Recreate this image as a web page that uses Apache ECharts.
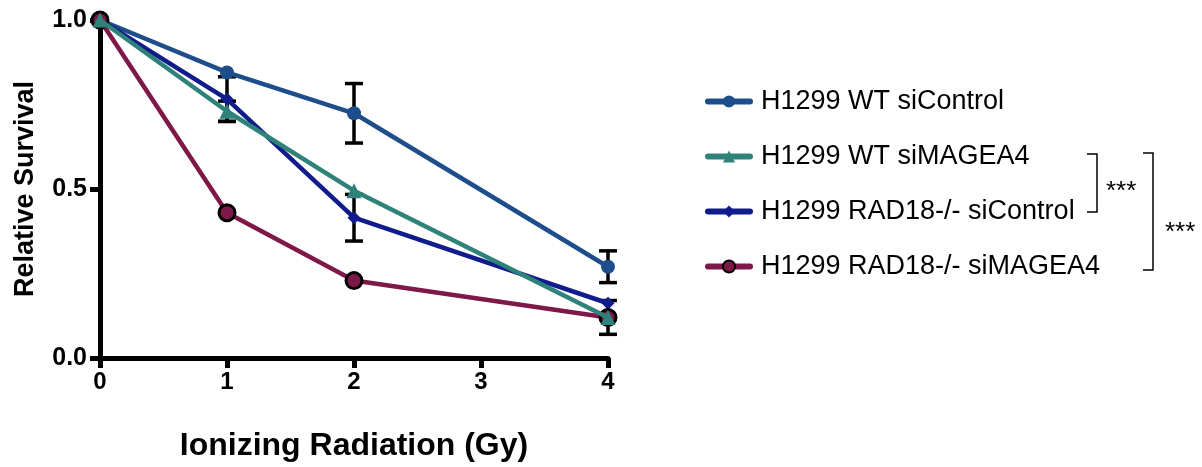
<!DOCTYPE html>
<html>
<head>
<meta charset="utf-8">
<script src="https://cdn.jsdelivr.net/npm/echarts@6/dist/echarts.min.js"></script>
<style>
  html, body { margin: 0; padding: 0; background: #fff; }
  #chart { width: 1202px; height: 467px; }
</style>
</head>
<body>
<div id="chart"></div>
<script>
// Dose points (Gy)
const doses = [0, 1, 2, 4];

// Series names
const seriesNames = [
  'H1299 WT siControl',
  'H1299 WT siMAGEA4',
  'H1299 RAD18-/- siControl',
  'H1299 RAD18-/- siMAGEA4'
];

// Relative survival means
const wtSiControl     = [1.0, 0.845, 0.724, 0.270];
const wtSiMAGEA4      = [1.0, 0.730, 0.495, 0.120];
const rad18SiControl  = [1.0, 0.766, 0.415, 0.162];
const rad18SiMAGEA4   = [1.0, 0.430, 0.229, 0.120];

// Error (half-length of error bar), 0 = no bar shown
const wtSiControlErr    = [0, 0, 0.088, 0.047];
const wtSiMAGEA4Err     = [0, 0.030, 0, 0];
const rad18SiControlErr = [0, 0.066, 0.069, 0];
const rad18SiMAGEA4Err  = [0, 0, 0, 0.050];

// Axis ticks
const xTicks = [0, 1, 2, 3, 4];
const yTicks = [0, 0.5, 1.0];

const colors = ['#1D4E8B', '#2E8279', '#101B8C', '#7E1848'];
const symbols = ['circle', 'triangle', 'diamond', 'circle'];
const symbolSizes = [14, 15, 13, 16];

const means = [wtSiControl, wtSiMAGEA4, rad18SiControl, rad18SiMAGEA4];
const errs = [wtSiControlErr, wtSiMAGEA4Err, rad18SiControlErr, rad18SiMAGEA4Err];

const fontFamily = '"Liberation Sans", Arial, Helvetica, sans-serif';

// Collect non-zero error bars
const errData = [];
means.forEach((m, si) => {
  m.forEach((v, i) => {
    if (errs[si][i] > 0) errData.push([doses[i], v, errs[si][i]]);
  });
});

const lineSeries = means.map((m, si) => ({
  name: seriesNames[si],
  type: 'line',
  data: doses.map((d, i) => [d, m[i]]),
  symbol: symbols[si],
  symbolSize: symbolSizes[si],
  showSymbol: true,
  clip: false,
  z: 3 + (si === 1 ? 1 : 0),
  lineStyle: { color: colors[si], width: 4.5 },
  itemStyle: si === 3
    ? { color: colors[si], borderColor: '#000', borderWidth: 3 }
    : { color: colors[si] },
  emphasis: { disabled: true },
  animation: false
}));

const errorSeries = {
  type: 'custom',
  name: 'err',
  z: 2,
  clip: false,
  data: errData,
  renderItem: function (params, api) {
    const x = api.value(0), y = api.value(1), e = api.value(2);
    const hi = api.coord([x, y + e]);
    const lo = api.coord([x, y - e]);
    const cap = 9;
    const style = { stroke: '#000', lineWidth: 3.5, fill: null };
    return {
      type: 'group',
      children: [
        { type: 'line', shape: { x1: hi[0], y1: hi[1], x2: lo[0], y2: lo[1] }, style },
        { type: 'line', shape: { x1: hi[0] - cap, y1: hi[1], x2: hi[0] + cap, y2: hi[1] }, style },
        { type: 'line', shape: { x1: lo[0] - cap, y1: lo[1], x2: lo[0] + cap, y2: lo[1] }, style }
      ]
    };
  },
  animation: false
};

const chart = echarts.init(document.getElementById('chart'), null, { renderer: 'canvas' });

const bracketStyle = { stroke: '#000', lineWidth: 1.5, fill: null };

chart.setOption({
  backgroundColor: '#fff',
  animation: false,
  grid: { left: 100, right: 594, top: 20, bottom: 108 },
  xAxis: {
    type: 'value',
    min: 0, max: 4, interval: 1,
    name: 'Ionizing Radiation (Gy)',
    nameLocation: 'middle',
    nameGap: 72,
    nameTextStyle: { fontFamily, fontWeight: 'bold', fontSize: 32, color: '#000' },
    axisLine: { show: true, lineStyle: { color: '#000', width: 5 } },
    axisTick: { show: true, length: 10, lineStyle: { color: '#000', width: 5 } },
    axisLabel: {
      fontFamily, fontWeight: 'bold', fontSize: 24, color: '#000', margin: 12,
      formatter: v => xTicks.includes(v) ? String(v) : ''
    },
    splitLine: { show: false }
  },
  yAxis: {
    type: 'value',
    min: 0, max: 1, interval: 0.5,
    name: 'Relative Survival',
    nameLocation: 'middle',
    nameGap: 61,
    nameTextStyle: { fontFamily, fontWeight: 'bold', fontSize: 27, color: '#000' },
    axisLine: { show: true, lineStyle: { color: '#000', width: 5 } },
    axisTick: { show: true, length: 10, lineStyle: { color: '#000', width: 5 } },
    axisLabel: {
      fontFamily, fontWeight: 'bold', fontSize: 25, color: '#000', margin: 13,
      formatter: v => yTicks.some(t => Math.abs(t - v) < 1e-9) ? v.toFixed(1) : ''
    },
    splitLine: { show: false }
  },
  legend: {
    orient: 'vertical',
    left: 700,
    top: 83,
    itemWidth: 42,
    itemHeight: 15,
    itemGap: 28,
    data: seriesNames,
    lineStyle: { width: 6, cap: 'round' },
    textStyle: { fontFamily, fontSize: 27, color: '#000', padding: [0, 0, 0, 6] },
    selectedMode: false
  },
  graphic: [
    { type: 'polyline', shape: { points: [[1087, 154], [1097, 154], [1097, 212], [1087, 212]] }, style: bracketStyle },
    { type: 'text', left: 1106, top: 179, style: { text: '***', fontFamily, fontSize: 26, fill: '#000' } },
    { type: 'polyline', shape: { points: [[1143, 153], [1153, 153], [1153, 270], [1143, 270]] }, style: bracketStyle },
    { type: 'text', left: 1165, top: 220, style: { text: '***', fontFamily, fontSize: 26, fill: '#000' } }
  ],
  series: [errorSeries].concat(lineSeries)
});
</script>
</body>
</html>
